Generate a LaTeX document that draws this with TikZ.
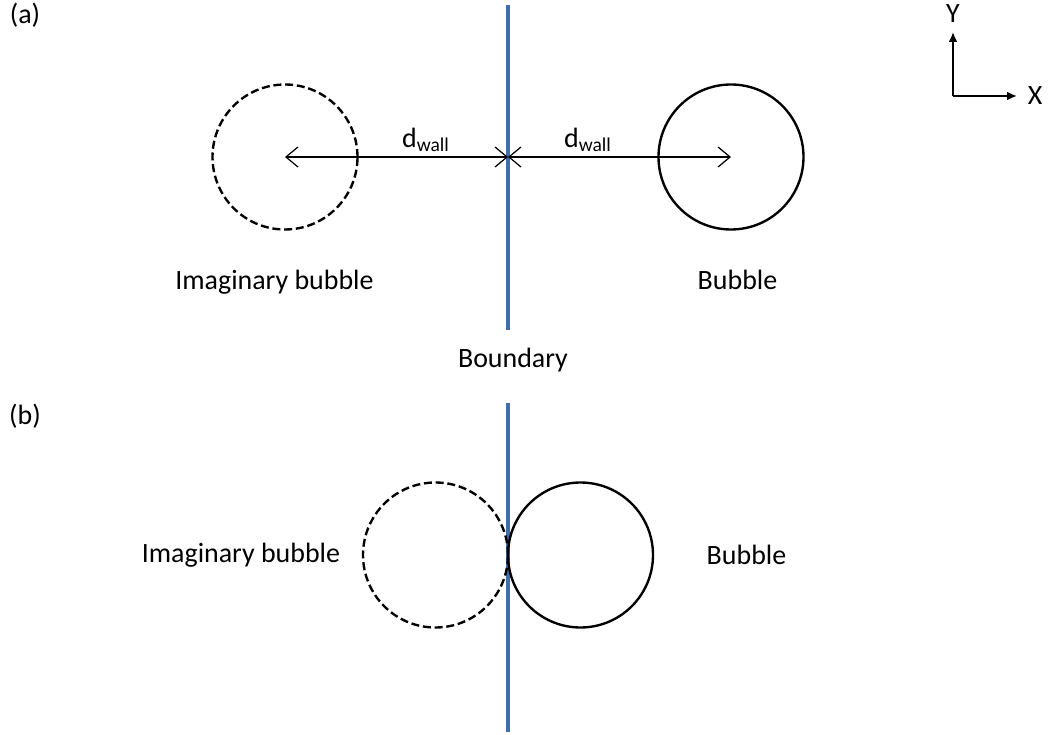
\documentclass[tikz,border=0pt]{standalone}
\usepackage{fontspec}
\setmainfont{Carlito}
\usetikzlibrary{arrows.meta, positioning, calc}

\begin{document}
\begin{tikzpicture}[
    font=\fontsize{15.9}{19}\selectfont,
    bubble/.style={circle, draw=black, line width=1.35pt, inner sep=0pt, minimum size=2.9cm},
    imagbubble/.style={bubble, dash pattern=on 1.6mm off 0.75mm},
    wall/.style={draw={rgb,255:red,65;green,110;blue,170}, line width=1.9pt},
    dist/.style={draw=black, line width=0.7pt, {Straight Barb[length=2.4mm, width=4mm]}-{Straight Barb[length=2.4mm, width=4mm]}},
    axis/.style={draw=black, line width=1.4pt, -{Latex[length=2mm, width=1.8mm]}}
]
\useasboundingbox (0,0) rectangle (21,14.68);

% Panel (a)
\node (la) at (0.5,14.38) {(a)};
\coordinate (wa1) at (10.16,14.58);
\coordinate (wa2) at (10.16,8.08);
\draw[wall] (wa1) -- (wa2);
\node (boundary) at (10.26,7.48) {Boundary};

\node[imagbubble] (ia) at (5.70,11.54) {};
\node[bubble] (ba) at (14.62,11.54) {};
\coordinate (wc) at (10.16,11.54);

\draw[dist] (ia.center) -- (wc);
\draw[dist] (wc) -- (ba.center);
\node (d1) at (8.52,11.88) {d\textsubscript{wall}};
\node (d2) at (11.76,11.88) {d\textsubscript{wall}};

\node (tia) at (5.49,9.04) {Imaginary bubble};
\node (tba) at (14.75,9.08) {Bubble};

% Axes
\coordinate (o) at (19.06,12.76);
\coordinate (ytip) at (19.06,14.04);
\coordinate (xtip) at (20.34,12.76);
\draw[axis] (o) -- (ytip);
\draw[axis] (o) -- (xtip);
\node (ylab) at (19.06,14.40) {Y};
\node (xlab) at (20.70,12.76) {X};

% Panel (b)
\node (lb) at (0.5,6.36) {(b)};
\coordinate (wb1) at (10.16,6.62);
\coordinate (wb2) at (10.16,0.04);
\draw[wall] (wb1) -- (wb2);

\node[imagbubble] (ib) at (8.71,3.58) {};
\node[bubble] (bb) at (11.61,3.58) {};

\node (tib) at (4.82,3.58) {Imaginary bubble};
\node (tbb) at (14.93,3.58) {Bubble};

\end{tikzpicture}
\end{document}
